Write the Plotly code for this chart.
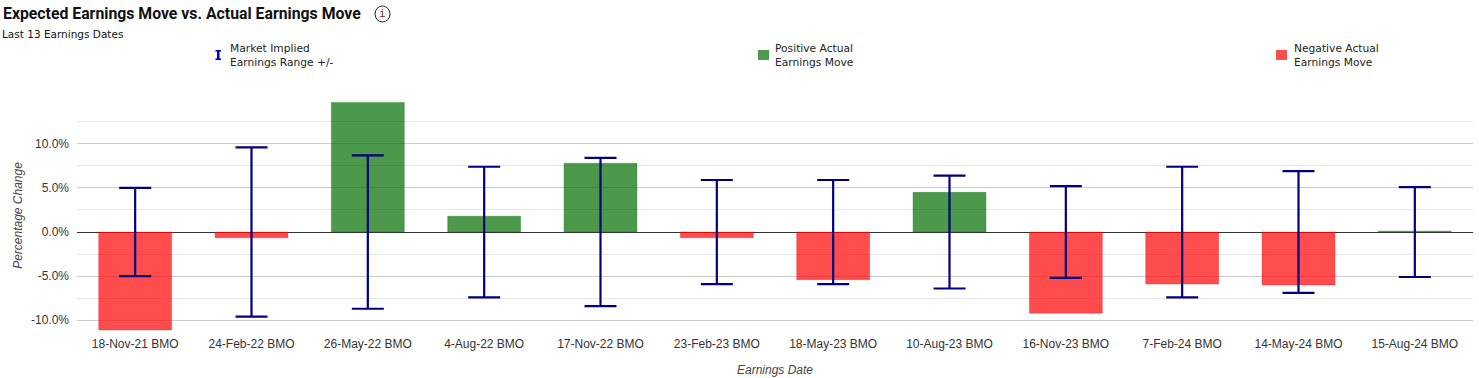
import plotly.graph_objects as go

dates = ["18-Nov-21 BMO", "24-Feb-22 BMO", "26-May-22 BMO", "4-Aug-22 BMO", "17-Nov-22 BMO", "23-Feb-23 BMO",
         "18-May-23 BMO", "10-Aug-23 BMO", "16-Nov-23 BMO", "7-Feb-24 BMO", "14-May-24 BMO", "15-Aug-24 BMO"]
actual_move = [-11.1, -0.65, 14.7, 1.8, 7.8, -0.65, -5.4, 4.5, -9.2, -5.9, -6.0, 0.1]
implied_range = [5.0, 9.6, 8.7, 7.4, 8.4, 5.9, 5.9, 6.4, 5.2, 7.4, 6.9, 5.1]
y_ticks = [-10, -5, 0, 5, 10]
y_tick_labels = ["-10.0%", "-5.0%", "0.0%", "5.0%", "10.0%"]

GREEN = "rgba(0,110,0,0.7)"
RED = "rgba(255,0,0,0.7)"
NAVY = "#000080"
SANS = "Liberation Sans"
LEG = "DejaVu Sans"
W, H = 1479, 378
W_PLOT = W - 77 - 6

positive = [v if v >= 0 else None for v in actual_move]
negative = [v if v < 0 else None for v in actual_move]

fig = go.Figure()
fig.add_bar(x=dates, y=positive, name="Positive Actual Earnings Move", marker=dict(color=GREEN, line=dict(color="rgba(0,110,0,0.3)", width=1)))
fig.add_bar(x=dates, y=negative, name="Negative Actual Earnings Move", marker=dict(color=RED, line=dict(color="rgba(255,0,0,0.3)", width=1)))
fig.add_scatter(x=dates, y=[0] * len(dates), mode="markers", name="Market Implied Earnings Range +/-",
                marker=dict(size=1, opacity=0),
                error_y=dict(type="data", array=implied_range, symmetric=True, color=NAVY, thickness=2.2, width=16))

def px(x, y):
    return (x - 77) / W_PLOT, (331 - y) / 231

def note(text, x, y, size=12, family=LEG, color="#222", anchor="left"):
    a, b = px(x, y)
    fig.add_annotation(text=text, xref="paper", yref="paper", x=a, y=b, showarrow=False, xanchor=anchor,
                       yanchor="middle", align="left", font=dict(size=size, family=family, color=color))

note("<b>Expected Earnings Move vs. Actual Earnings Move</b>", 1, 13, size=15.8, family="Roboto", color="#111")
note("Last 13 Earnings Dates", 0, 34, size=10.5, color="#111")
for x, y, t in [(228, 55, "Market Implied<br>Earnings Range +/-"),
                (773, 55, "Positive Actual<br>Earnings Move"),
                (1292, 55, "Negative Actual<br>Earnings Move")]:
    note(t, x, y, size=10.7)
note("i", 382.5, 14, size=11, family="DejaVu Sans Mono", color="#7a1f1f", anchor="center")

def add_rect(x0, y0, x1, y1, **kw):
    a, b = px(x0, y1)
    c, d = px(x1, y0)
    fig.add_shape(type=kw.pop("kind", "rect"), xref="paper", yref="paper", x0=a, y0=b, x1=c, y1=d, **kw)

add_rect(758, 50, 769, 60, fillcolor="#4d9a4d", line_width=0)
add_rect(1276, 50, 1287, 60, fillcolor="#ff4d4d", line_width=0)
add_rect(375, 6, 390, 22, kind="circle", line=dict(color="#222", width=1))
add_rect(217, 50, 219.5, 60, fillcolor="#0000c0", line_width=0)
add_rect(215.5, 50, 221, 51.6, fillcolor="#0000c0", line_width=0)
add_rect(215.5, 58.4, 221, 60, fillcolor="#0000c0", line_width=0)

fig.update_layout(
    width=W, height=H, autosize=False, barmode="overlay", bargap=0.373, showlegend=False,
    paper_bgcolor="white", plot_bgcolor="white",
    margin=dict(l=77, r=6, t=100, b=47),
    font=dict(family=SANS, size=12, color="#333"),
    xaxis=dict(type="category", range=[-0.5, 11.5], showgrid=False, showline=False, ticks="", ticklabelstandoff=4,
               tickfont=dict(size=12, color="#333"),
               title=dict(text="<i>Earnings Date</i>", standoff=15, font=dict(size=12, color="#444")), automargin=False),
    yaxis=dict(range=[-11.22, 14.97], tickvals=y_ticks, ticktext=y_tick_labels, showgrid=True, gridcolor="#cccccc",
               gridwidth=1, zeroline=True, zerolinecolor="#333333", zerolinewidth=1, ticks="", showline=False,
               tickfont=dict(size=12, color="#333"), automargin=False, ticklabelstandoff=7,
               minor=dict(tick0=0, dtick=2.5, showgrid=True, gridcolor="#e8e8e8", gridwidth=1),
               title=dict(text="<i>Percentage Change</i>", standoff=5, font=dict(size=12, color="#444"))),
)
fig.write_html("out.html", post_script="document.body.style.margin='0';", config={"displayModeBar": False})
